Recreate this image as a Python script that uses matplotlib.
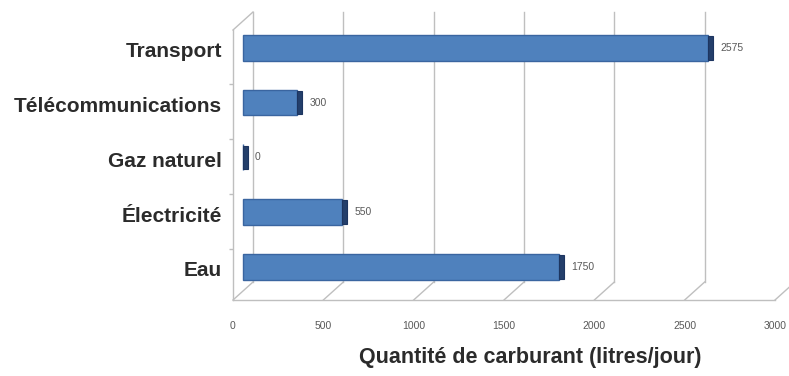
import matplotlib.pyplot as plt
from matplotlib.transforms import offset_copy

# data
categories = ["Eau", "Électricité", "Gaz naturel", "Télécommunications", "Transport"]
values = [1750, 550, 0, 300, 2575]
value_labels = ["1750", "550", "0", "300", "2575"]
xticks = [0, 500, 1000, 1500, 2000, 2500, 3000]
xlabel = "Quantité de carburant (litres/jour)"

W, H = 789, 376
fig = plt.figure(figsize=(W / 100, H / 100), dpi=100)
plt.rcParams['font.family'] = ['Liberation Sans', 'DejaVu Sans']

# front plane of the pseudo 3d box
left_px, right_px, top_px, bottom_px = 233, 775, 30, 300
ax = fig.add_axes([left_px / W, 1 - bottom_px / H,
                   (right_px - left_px) / W, (bottom_px - top_px) / H])
ax.set_xlim(0, 3000)
ax.set_ylim(-0.44, 4.49)
for s in ax.spines.values():
    s.set_visible(False)

# depth offset (pixels) front -> back
DEPTH_X, DEPTH_Y = 20, 18
sx = (right_px - left_px) / 3000.0
sy = (bottom_px - top_px) / (4.49 + 0.44)
dxd = DEPTH_X / sx
dyd = DEPTH_Y / sy
y0, y1 = ax.get_ylim()
grid_c = "#bfbfbf"

# back wall gridlines
for t in xticks:
    ax.plot([t + dxd, t + dxd], [y0 + dyd, y1 + dyd], color=grid_c, lw=1,
            clip_on=False, zorder=1)
# floor
ax.plot([0, 3000], [y0, y0], color=grid_c, lw=1, clip_on=False, zorder=1)
for t in xticks:
    ax.plot([t, t + dxd], [y0, y0 + dyd], color=grid_c, lw=1,
            clip_on=False, zorder=1)
# left wall
ax.plot([0, 0], [y0, y1], color=grid_c, lw=1, clip_on=False, zorder=1)
ax.plot([0, dxd], [y1, y1 + dyd], color=grid_c, lw=1, clip_on=False, zorder=1)

# category separator ticks on left wall
ax.set_yticks([0.5, 1.5, 2.5, 3.5])
ax.set_yticklabels([])
ax.tick_params(axis='y', length=3, color=grid_c, width=1)

# x ticks
ax.set_xticks(xticks)
ax.set_xticklabels([str(t) for t in xticks], fontsize=7.5, color="#595959")
ax.tick_params(axis='x', length=0, pad=15)

# bars drawn half way into the depth
mid = offset_copy(ax.transData, fig=fig, x=DEPTH_X / 2, y=DEPTH_Y / 2, units='dots')
pos = list(range(len(categories)))
ax.barh(pos, values, height=0.47, transform=mid, color="#4f81bd",
        edgecolor="#3a65a0", linewidth=1, zorder=3, clip_on=False)
cap_w = 4.5 / sx
ax.barh(pos, [cap_w] * len(values), left=values, height=0.43, transform=mid,
        color="#243f6b", edgecolor="#1d3560", linewidth=0.8, zorder=4,
        clip_on=False)

lab = offset_copy(ax.transData, fig=fig, x=DEPTH_X / 2 + 12, y=DEPTH_Y / 2, units='dots')
for p, v, t in zip(pos, values, value_labels):
    ax.text(v, p, t, transform=lab, fontsize=7.5, color="#595959",
            va='center', ha='left')

# category labels
cat = offset_copy(ax.transData, fig=fig, x=-11, y=5, units='dots')
for p, c in zip(pos, categories):
    ax.text(0, p, c, transform=cat, fontsize=15, fontweight='bold',
            color="#2b2b2b", ha='right', va='center')

fig.text(530 / W, 1 - 357 / H, xlabel, fontsize=15.5, fontweight='bold',
         color="#2b2b2b", ha='center', va='center')

fig.savefig("out.png", dpi=100)
